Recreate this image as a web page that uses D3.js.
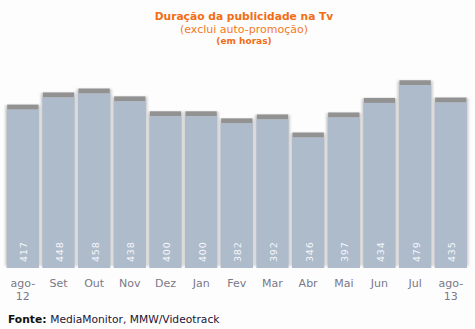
<!DOCTYPE html>
<html>
<head>
<meta charset="utf-8">
<script src="https://cdn.jsdelivr.net/npm/d3@7"></script>
<style>
  html, body { margin: 0; padding: 0; background: #fdfdfd; }
  svg { display: block; }
</style>
</head>
<body>
<script>
// Monthly advertising time on TV (hours), Aug 2012 – Aug 2013
const months = ["ago-\n12", "Set", "Out", "Nov", "Dez", "Jan", "Fev", "Mar", "Abr", "Mai", "Jun", "Jul", "ago-\n13"];
const hours = [417, 448, 458, 438, 400, 400, 382, 392, 346, 397, 434, 479, 435];
const yDomain = [0, 500];

const W = 475, H = 329;
const svg = d3.select("body").append("svg").attr("width", W).attr("height", H);

const defs = svg.append("defs");
defs.append("filter").attr("id", "soft").attr("x", "-50%").attr("y", "-50%").attr("width", "200%").attr("height", "200%")
  .append("feGaussianBlur").attr("stdDeviation", 1.2);
defs.append("filter").attr("id", "edge").attr("x", "-50%").attr("y", "-50%").attr("width", "200%").attr("height", "200%")
  .append("feGaussianBlur").attr("stdDeviation", 0.7);

const x = d3.scaleBand().domain(d3.range(months.length)).range([5.6, 468]).paddingInner(0.095).paddingOuter(0.03);
const y = d3.scaleLinear().domain(yDomain).range([268, 71.5]);

const bars = svg.append("g").selectAll("g").data(hours).join("g");

// soft halo around each column
bars.append("rect")
  .attr("x", (d, i) => x(i) - 1.5)
  .attr("y", d => y(d) + 1)
  .attr("width", x.bandwidth() + 3)
  .attr("height", d => y(0) - y(d) - 3)
  .attr("fill", "#cdcdcd")
  .attr("filter", "url(#soft)");

// darker band on top of each column
bars.append("rect")
  .attr("x", (d, i) => x(i) + 0.5)
  .attr("y", d => y(d) + 0.5)
  .attr("width", x.bandwidth() - 1)
  .attr("height", 5)
  .attr("fill", "#929292")
  .attr("filter", "url(#edge)");

// column body
bars.append("rect")
  .attr("x", (d, i) => x(i))
  .attr("y", d => y(d) + 5.5)
  .attr("width", x.bandwidth())
  .attr("height", d => y(0) - y(d) - 5.5)
  .attr("fill", "#aebbcb");

// value labels, rotated, near the bottom of each column
bars.append("text")
  .attr("transform", (d, i) => `translate(${x(i) + x.bandwidth() / 2 + 4.5},262) rotate(-90)`)
  .attr("font-family", "DejaVu Sans, Verdana, sans-serif")
  .attr("font-size", 9.5)
  .attr("letter-spacing", 0.8)
  .attr("fill", "#f5f7fb")
  .text(d => d);

// month axis
const xAxis = d3.axisBottom(x).tickSize(0).tickFormat(i => months[i]);
const gx = svg.append("g").attr("transform", `translate(0,${y(0)})`).call(xAxis);
gx.select(".domain").remove();
gx.selectAll(".tick text").each(function(i) {
  const t = d3.select(this);
  const lines = months[i].split("\n");
  t.text(null)
    .attr("y", 0)
    .attr("dy", null)
    .attr("font-family", "DejaVu Sans, Verdana, sans-serif")
    .attr("font-size", 11)
    .attr("fill", "#7b7888");
  lines.forEach((ln, k) => {
    t.append("tspan").attr("x", 0).attr("y", 19 + k * 13).text(ln);
  });
});

// titles
const cx = 244;
svg.append("text").attr("x", cx).attr("y", 20).attr("text-anchor", "middle")
  .attr("font-family", "DejaVu Sans, Verdana, sans-serif").attr("font-size", 10.7).attr("font-weight", "bold")
  .attr("fill", "#f26d14").text("Duração da publicidade na Tv");
svg.append("text").attr("x", cx).attr("y", 32.5).attr("text-anchor", "middle")
  .attr("font-family", "DejaVu Sans, Verdana, sans-serif").attr("font-size", 11)
  .attr("fill", "#f27a24").text("(exclui auto-promoção)");
svg.append("text").attr("x", cx).attr("y", 44).attr("text-anchor", "middle")
  .attr("font-family", "DejaVu Sans, Verdana, sans-serif").attr("font-size", 9).attr("font-weight", "bold")
  .attr("fill", "#f26d14").text("(em horas)");

// source
const src = svg.append("text").attr("x", 8).attr("y", 323)
  .attr("font-family", "DejaVu Sans, Verdana, sans-serif").attr("font-size", 10.7).attr("fill", "#1c1535");
src.append("tspan").attr("font-weight", "bold").attr("fill", "#111").text("Fonte: ");
src.append("tspan").text("MediaMonitor, MMW/Videotrack");
</script>
</body>
</html>
